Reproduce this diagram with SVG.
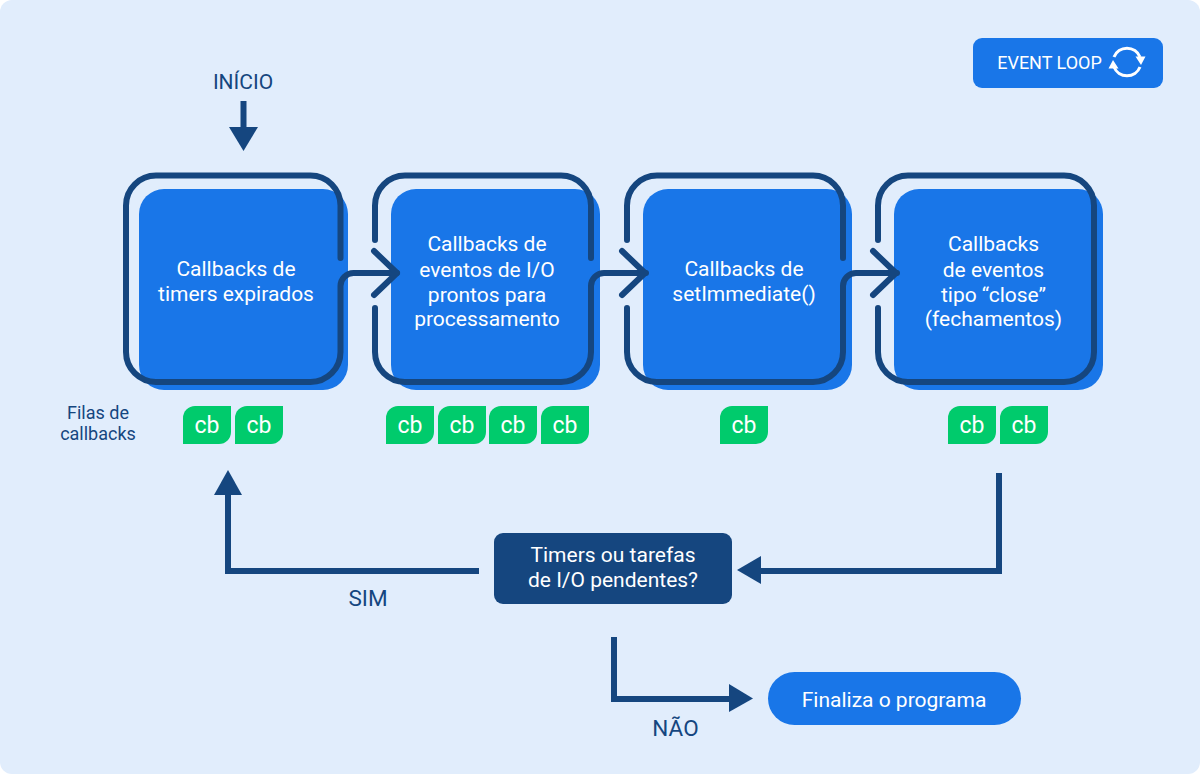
<svg xmlns="http://www.w3.org/2000/svg" width="1200" height="774" viewBox="0 0 1200 774">
<style>
text{font-family:Roboto,"Liberation Sans",sans-serif;text-anchor:middle;font-weight:400}
.w{fill:#fff;font-size:21px}
.d{fill:#15467f;font-size:21px}
.big{font-size:22.500px}
.sm{font-size:18px}
.box{fill:#1976e8}
.ol{fill:none;stroke:#15467f;stroke-width:6;stroke-linecap:round;stroke-linejoin:round}
.ln{fill:none;stroke:#15467f;stroke-width:6;stroke-linejoin:miter}
.ah{fill:#15467f}
.cb{fill:#00cb6c}
.cbt{fill:#fff;font-size:23px}
</style>
<defs>
<path id="c" class="cb" d="M12 0H48V26A12 12 0 0 1 36 38H0V12A12 12 0 0 1 12 0Z"/>
</defs>
<rect width="1200" height="774" rx="12" fill="#e1edfc"/>
<g id="event-loop">
<rect x="973" y="38" width="190" height="50" rx="9" class="box"/>
<text x="1049.500" y="69" style="font-size:18px;fill:#fff">EVENT LOOP</text>
<path d="M1114 57A14 14 0 0 1 1140 57M1140 67A14 14 0 0 1 1114 67" fill="none" stroke="#fff" stroke-width="3"/>
<path d="M1135.500 56.500H1145.500L1141 65ZM1108.500 68.500H1118.500L1113 60Z" fill="#fff"/>
</g>
<g id="node-timers">
<rect x="139" y="189" width="209" height="201" rx="25" class="box"/>
<text class="w" x="236" y="276">Callbacks de</text>
<text class="w" x="236" y="301">timers expirados</text>
</g>
<g id="node-io">
<rect x="391" y="189" width="209" height="201" rx="25" class="box"/>
<text class="w" x="487" y="251">Callbacks de</text>
<text class="w" x="487" y="277">eventos de I/O</text>
<text class="w" x="487" y="302">prontos para</text>
<text class="w" x="487" y="326">processamento</text>
</g>
<g id="node-immediate">
<rect x="643" y="189" width="209" height="201" rx="25" class="box"/>
<text class="w" x="744" y="276">Callbacks de</text>
<text class="w" x="744" y="301">setImmediate()</text>
</g>
<g id="node-close">
<rect x="894" y="189" width="209" height="201" rx="25" class="box"/>
<text class="w" x="993.500" y="251">Callbacks</text>
<text class="w" x="993.500" y="277">de eventos</text>
<text class="w" x="993.500" y="302">tipo “close”</text>
<text class="w" x="993.500" y="326">(fechamentos)</text>
</g>
<g id="connectors">
<path class="ol" d="M340.500 258V205.500A30 30 0 0 0 310.500 175.500H156A30 30 0 0 0 126 205.500V352A30 30 0 0 0 156 382H310.500A30 30 0 0 0 340.500 352V286A13 13 0 0 1 353.500 273H397"/>
<path class="ol" d="M374 251L397 273L374 295"/>
<path class="ol" d="M375 240V205.500A30 30 0 0 1 405 175.500H561A30 30 0 0 1 591 205.500V258M375 308V352A30 30 0 0 0 405 382H561A30 30 0 0 0 591 352V286A13 13 0 0 1 604 273H646"/>
<path class="ol" d="M622 251L645 273L622 295"/>
<path class="ol" d="M627 240V205.500A30 30 0 0 1 657 175.500H813A30 30 0 0 1 843 205.500V258M627 308V352A30 30 0 0 0 657 382H813A30 30 0 0 0 843 352V286A13 13 0 0 1 856 273H897"/>
<path class="ol" d="M873 251L896 273L873 295"/>
<path class="ol" d="M878 240V205.500A30 30 0 0 1 908 175.500H1064A30 30 0 0 1 1094 205.500V352A30 30 0 0 1 1064 382H908A30 30 0 0 1 878 352V308"/>
<path class="ln" d="M243.500 101V130"/>
<path class="ah" d="M229 127H258L243.500 151Z"/>
<path class="ln" d="M479 571H228V492"/>
<path class="ah" d="M214 495H242L228 470Z"/>
<path class="ln" d="M999 473V571H760"/>
<path class="ah" d="M761 556V584L737 570Z"/>
<path class="ln" d="M614 637V699H730"/>
<path class="ah" d="M729 684V712L753 698.500Z"/>
</g>
<g id="start"><text class="d" x="243" y="89">INÍCIO</text></g>
<g id="label-queues">
<text class="d sm" x="98" y="419">Filas de</text>
<text class="d sm" x="98" y="440">callbacks</text>
</g>
<g id="queue-1"><use href="#c" x="183" y="406"/><use href="#c" x="235" y="406"/><text class="cbt" x="207" y="433">cb</text><text class="cbt" x="259" y="433">cb</text></g>
<g id="queue-2"><use href="#c" x="386" y="406"/><use href="#c" x="438" y="406"/><use href="#c" x="489" y="406"/><use href="#c" x="541" y="406"/><text class="cbt" x="410" y="433">cb</text><text class="cbt" x="462" y="433">cb</text><text class="cbt" x="513" y="433">cb</text><text class="cbt" x="565" y="433">cb</text></g>
<g id="queue-3"><use href="#c" x="720" y="406"/><text class="cbt" x="744" y="433">cb</text></g>
<g id="queue-4"><use href="#c" x="948" y="406"/><use href="#c" x="1000" y="406"/><text class="cbt" x="972" y="433">cb</text><text class="cbt" x="1024" y="433">cb</text></g>
<g id="decision">
<rect x="494" y="533" width="238" height="71" rx="9" fill="#15467f"/>
<text class="w" x="613" y="562">Timers ou tarefas</text>
<text class="w" x="613" y="587">de I/O pendentes?</text>
</g>
<g id="end">
<rect x="768" y="672" width="253" height="53" rx="26.500" class="box"/>
<text class="w" x="894" y="707">Finaliza o programa</text>
</g>
<g id="labels">
<text class="d big" x="368" y="606">SIM</text>
<text class="d big" x="675.500" y="736">NÃO</text>
</g>
</svg>
